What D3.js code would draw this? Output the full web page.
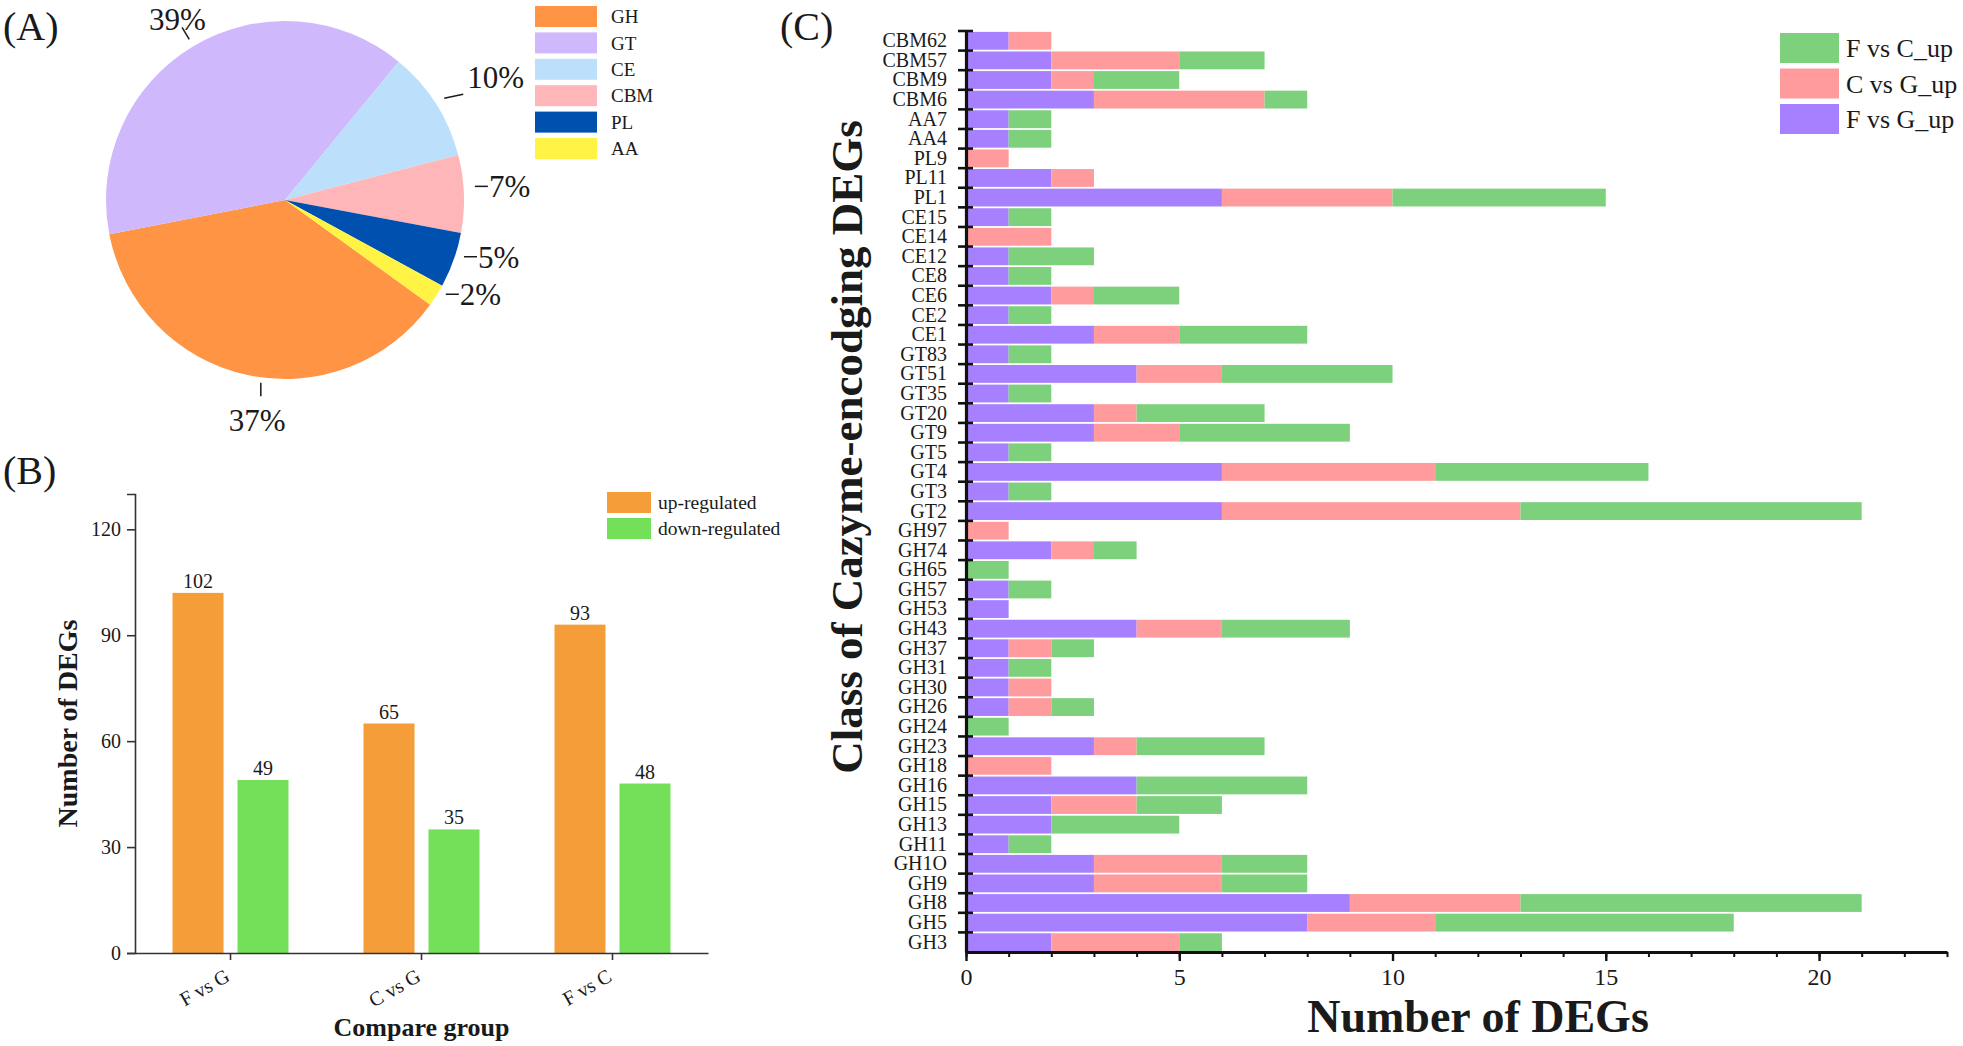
<!DOCTYPE html>
<html>
<head>
<meta charset="utf-8">
<title>CAZyme DEGs</title>
<style>
  html, body { margin: 0; padding: 0; background: #fff; }
  svg text { font-family: "Liberation Serif", "Times New Roman", serif; fill: #1a1a1a; }
</style>
</head>
<body>
<svg width="1963" height="1046"></svg>
<script src="https://d3js.org/d3.v7.min.js"></script>
<script>
// ---- (A) share of CAZyme classes (%)
var pieClasses = ["GH", "GT", "CE", "CBM", "PL", "AA"];
var pieShares = [37, 39, 10, 7, 5, 2];
var pieColors = ["#FE9444", "#D0B8FD", "#BCE0FB", "#FFB6B9", "#0050B0", "#FFF445"];

// ---- (B) up / down regulated DEGs per comparison
var groups = ["F vs G", "C vs G", "F vs C"];
var upCounts = [102, 65, 93];
var downCounts = [49, 35, 48];
var regLabels = ["up-regulated", "down-regulated"];
var regColors = ["#F59D38", "#74E05A"];
var bTicks = [0, 30, 60, 90, 120];

// ---- (C) CAZyme families (top to bottom), stacked counts
var families = ["CBM62", "CBM57", "CBM9", "CBM6", "AA7", "AA4", "PL9", "PL11", "PL1",
  "CE15", "CE14", "CE12", "CE8", "CE6", "CE2", "CE1",
  "GT83", "GT51", "GT35", "GT20", "GT9", "GT5", "GT4", "GT3", "GT2",
  "GH97", "GH74", "GH65", "GH57", "GH53", "GH43", "GH37", "GH31", "GH30", "GH26",
  "GH24", "GH23", "GH18", "GH16", "GH15", "GH13", "GH11", "GH1O", "GH9", "GH8", "GH5", "GH3"];
var fvsG = [1, 2, 2, 3, 1, 1, 0, 2, 6, 1, 0, 1, 1, 2, 1, 3, 1, 4, 1, 3, 3, 1, 6, 1, 6,
  0, 2, 0, 1, 1, 4, 1, 1, 1, 1, 0, 3, 0, 4, 2, 2, 1, 3, 3, 9, 8, 2];
var cvsG = [1, 3, 1, 4, 0, 0, 1, 1, 4, 0, 2, 0, 0, 1, 0, 2, 0, 2, 0, 1, 2, 0, 5, 0, 7,
  1, 1, 0, 0, 0, 2, 1, 0, 1, 1, 0, 1, 2, 0, 2, 0, 0, 3, 3, 4, 3, 3];
var fvsC = [0, 2, 2, 1, 1, 1, 0, 0, 5, 1, 0, 2, 1, 2, 1, 3, 1, 4, 1, 3, 4, 1, 5, 1, 8,
  0, 1, 1, 1, 0, 3, 1, 1, 0, 1, 1, 3, 0, 4, 2, 3, 1, 2, 2, 8, 7, 1];
var seriesKeys = ["F vs G_up", "C vs G_up", "F vs C_up"];
var seriesColors = ["#A680FE", "#FF9B9C", "#7DD17C"];
var cTicks = [0, 5, 10, 15, 20];

var svg = d3.select("svg");
var ink = "#1a1a1a";

function panelLetter(txt, x, y) {
  svg.append("text").attr("x", x).attr("y", y)
    .style("font-size", "40px").text(txt);
}

// =============== (A) pie ===============
panelLetter("(A)", 3, 40);

var cx = 285, cy = 200, R = 179;
var startA = 125.8 * Math.PI / 180;
var pie = d3.pie().sort(null).value(function (d) { return d; })
  .startAngle(startA).endAngle(startA + 2 * Math.PI);
var arcs = pie(pieShares);
var arc = d3.arc().innerRadius(0).outerRadius(R);

var gA = svg.append("g").attr("transform", "translate(" + cx + "," + cy + ")");
gA.selectAll("path").data(arcs).enter().append("path")
  .attr("d", arc)
  .attr("fill", function (d, i) { return pieColors[i]; });

function leader(x1, y1, x2, y2) {
  gA.append("line").attr("x1", x1).attr("y1", y1).attr("x2", x2).attr("y2", y2)
    .attr("stroke", ink).attr("stroke-width", 1.5);
}
arcs.forEach(function (d) {
  var mid = (d.startAngle + d.endAngle) / 2;
  var sx = Math.sin(mid), sy = -Math.cos(mid);
  var lbl = d.data + "%";
  var t;
  if (sx > 0.8 && sy < -0.3) {
    // upper right: slanted leader, label above its end
    var ax = 189 * sx, ay = 189 * sy;
    leader(ax, ay, ax + 19, ay - 4);
    t = gA.append("text").attr("x", ax + 23).attr("y", ay - 10);
  } else if (Math.abs(sx) > 0.8) {
    // side labels: short dash then text
    var px = 190 * sx, py = 190 * sy - 7;
    leader(px, py, px + 13, py);
    t = gA.append("text").attr("x", px + 14).attr("y", py).attr("dy", "0.35em");
  } else {
    var shift = sy > 0 ? 16 : 0;
    leader(187 * sx + shift, 187 * sy, 201 * sx + shift + (sy > 0 ? 3 : 0), 201 * sy);
    t = gA.append("text").attr("x", 214 * sx + shift + 2).attr("y", 214 * sy)
      .attr("dy", sy > 0 ? "0.7em" : "0.45em")
      .attr("text-anchor", "middle");
  }
  t.style("font-size", "31px").text(lbl);
});

var legA = svg.append("g").attr("transform", "translate(535,6)");
pieClasses.forEach(function (c, i) {
  var g = legA.append("g").attr("transform", "translate(0," + i * 26.4 + ")");
  g.append("rect").attr("width", 62).attr("height", 21).attr("fill", pieColors[i]);
  g.append("text").attr("x", 76).attr("y", 10.5).attr("dy", "0.35em")
    .style("font-size", "19px").text(c);
});

// =============== (B) grouped bars ===============
panelLetter("(B)", 3, 484);

var bLeft = 135, bRight = 708, bTop = 494, bBottom = 953;
var xB = d3.scaleBand().domain(groups).range([bLeft, bRight]);
var xB1 = d3.scaleBand().domain(regLabels).range([37.5, 153.5]).paddingInner(0.215);
var yB = d3.scaleLinear().domain([0, 130]).range([bBottom, bTop]);

var gB = svg.append("g");
groups.forEach(function (g, i) {
  var vals = [upCounts[i], downCounts[i]];
  vals.forEach(function (v, j) {
    var x0 = xB(g) + xB1(regLabels[j]);
    gB.append("rect")
      .attr("x", x0).attr("y", yB(v))
      .attr("width", xB1.bandwidth()).attr("height", yB(0) - yB(v))
      .attr("fill", regColors[j]);
    gB.append("text")
      .attr("x", x0 + xB1.bandwidth() / 2).attr("y", yB(v) - 5)
      .attr("text-anchor", "middle").style("font-size", "20px").text(v);
  });
});

var yAxisB = svg.append("g").attr("transform", "translate(" + bLeft + ",0)")
  .call(d3.axisLeft(yB).tickValues(bTicks).tickSize(8).tickPadding(6));
yAxisB.selectAll("text").style("font-size", "20px");
var xAxisB = svg.append("g").attr("transform", "translate(0," + bBottom + ")")
  .call(d3.axisBottom(xB).tickSize(7).tickSizeOuter(0));
xAxisB.selectAll("text")
  .attr("text-anchor", "end")
  .attr("transform", "translate(-3,21) rotate(-30)")
  .attr("dy", "0.35em")
  .attr("y", 0).attr("x", 0)
  .style("font-size", "20px");
[yAxisB, xAxisB].forEach(function (a) {
  a.select(".domain").attr("stroke", "#333").attr("stroke-width", 1.6);
  a.selectAll(".tick line").attr("stroke", "#333").attr("stroke-width", 1.6);
});

svg.append("text")
  .attr("transform", "translate(77," + (bTop + bBottom) / 2 + ") rotate(-90)")
  .attr("text-anchor", "middle")
  .style("font-size", "28px").style("font-weight", "bold")
  .text("Number of DEGs");
svg.append("text")
  .attr("x", (bLeft + bRight) / 2).attr("y", 1036)
  .attr("text-anchor", "middle")
  .style("font-size", "26px").style("font-weight", "bold")
  .text("Compare group");

var legB = svg.append("g").attr("transform", "translate(607,492)");
regLabels.forEach(function (r, i) {
  var g = legB.append("g").attr("transform", "translate(0," + i * 26 + ")");
  g.append("rect").attr("width", 44).attr("height", 21).attr("fill", regColors[i]);
  g.append("text").attr("x", 51).attr("y", 10.5).attr("dy", "0.35em")
    .style("font-size", "19.5px").text(r);
});

// =============== (C) stacked horizontal bars ===============
panelLetter("(C)", 780, 40);

var cLeft = 966, cRight = 1947, cTop = 31, cBottom = 952;
var xC = d3.scaleLinear().domain([0, 23]).range([cLeft, cRight]);
var yC = d3.scaleBand().domain(families).range([cTop, cBottom])
  .paddingInner(0.09).paddingOuter(0.045);

var rows = families.map(function (f, i) {
  var o = { family: f };
  o[seriesKeys[0]] = fvsG[i];
  o[seriesKeys[1]] = cvsG[i];
  o[seriesKeys[2]] = fvsC[i];
  return o;
});
var stacked = d3.stack().keys(seriesKeys)(rows);

svg.append("g").selectAll("g").data(stacked).enter().append("g")
  .attr("fill", function (d, i) { return seriesColors[i]; })
  .selectAll("rect").data(function (d) { return d; }).enter().append("rect")
  .attr("x", function (d) { return xC(d[0]); })
  .attr("y", function (d) { return yC(d.data.family); })
  .attr("width", function (d) { return xC(d[1]) - xC(d[0]); })
  .attr("height", yC.bandwidth());

// minor ticks every unit
svg.append("g").attr("transform", "translate(0," + cBottom + ")")
  .call(d3.axisBottom(xC).tickValues(d3.range(0, 24)).tickSize(5).tickFormat(""))
  .call(function (a) {
    a.select(".domain").remove();
    a.selectAll(".tick line").attr("stroke", "#111").attr("stroke-width", 2);
  });
var xAxisC = svg.append("g").attr("transform", "translate(0," + cBottom + ")")
  .call(d3.axisBottom(xC).tickValues(cTicks).tickSize(9).tickPadding(7).tickSizeOuter(0));
xAxisC.select(".domain").attr("stroke", "#111").attr("stroke-width", 3.2);
xAxisC.selectAll(".tick line").attr("stroke", "#111").attr("stroke-width", 2.4);
xAxisC.selectAll("text").style("font-size", "24px");

var yAxisC = svg.append("g").attr("transform", "translate(" + cLeft + ",0)")
  .call(d3.axisLeft(yC).tickSize(0).tickPadding(19));
yAxisC.select(".domain").attr("stroke", "#111").attr("stroke-width", 3.2);
yAxisC.selectAll("text").style("font-size", "20px");

// boundary ticks crossing the category axis
var step = yC.step();
var bounds = d3.range(0, families.length).map(function (i) {
  return yC(families[i]) - step * yC.paddingInner() / 2;
});
bounds[0] = cTop;
yAxisC.selectAll("line.bnd").data(bounds).enter().append("line")
  .attr("class", "bnd")
  .attr("x1", -8).attr("x2", 7)
  .attr("y1", function (d) { return d; }).attr("y2", function (d) { return d; })
  .attr("stroke", "#111").attr("stroke-width", 2.6);

svg.append("text")
  .attr("transform", "translate(862,447) rotate(-90)")
  .attr("text-anchor", "middle")
  .style("font-size", "45px").style("font-weight", "bold")
  .text("Class of Cazyme-encodging DEGs");
svg.append("text")
  .attr("x", 1478).attr("y", 1032)
  .attr("text-anchor", "middle")
  .style("font-size", "46px").style("font-weight", "bold")
  .text("Number of DEGs");

var legC = svg.append("g").attr("transform", "translate(1780,33)");
[2, 1, 0].forEach(function (k, i) {
  var g = legC.append("g").attr("transform", "translate(0," + i * 35.5 + ")");
  g.append("rect").attr("width", 59).attr("height", 30).attr("fill", seriesColors[k]);
  g.append("text").attr("x", 66).attr("y", 15).attr("dy", "0.35em")
    .style("font-size", "26px").text(seriesKeys[k]);
});
</script>
</body>
</html>
